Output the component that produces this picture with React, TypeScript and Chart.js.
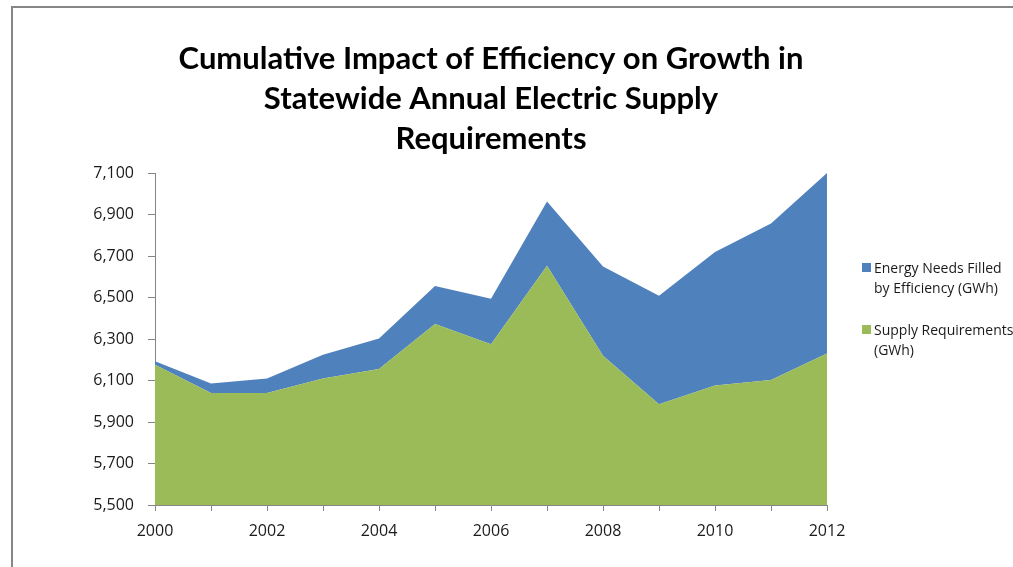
import React, { useEffect, useRef } from "react";
import { Chart, registerables } from "chart.js";

Chart.register(...registerables);

// ---- data ----
const years = ["2000", "2001", "2002", "2003", "2004", "2005", "2006", "2007", "2008", "2009", "2010", "2011", "2012"];
const supplyRequirements = [6176, 6040, 6040, 6110, 6155, 6372, 6275, 6653, 6219, 5986, 6076, 6103, 6230];
const efficiencySavings = [17, 46, 70, 114, 148, 183, 219, 310, 431, 522, 643, 754, 870];
const yMin = 5500;
const yMax = 7100;
const yStep = 200;
const titleLines = [
  "Cumulative Impact of Efficiency on Growth in",
  "Statewide Annual Electric Supply",
  "Requirements",
];
const supplyLabel = ["Supply Requirements", "(GWh)"];
const efficiencyLabel = ["Energy Needs Filled", "by Efficiency (GWh)"];

const GREEN = "#9BBB59";
const BLUE = "#4F81BD";
const AXIS = "#868686";
const TEXT = "#1a1a1a";
const FONT = "'Open Sans', Lato, sans-serif";

const sideLegend = {
  id: "sideLegend",
  afterDraw(chart: any) {
    const ctx = chart.ctx;
    const area = chart.chartArea;
    const mid = (area.top + area.bottom) / 2;
    const x = area.right + 35;
    const order = [1, 0];
    const offsets = [-66, -4];
    ctx.save();
    ctx.font = `14px ${FONT}`;
    ctx.textBaseline = "alphabetic";
    ctx.textAlign = "left";
    order.forEach((di, k) => {
      const ds = chart.data.datasets[di];
      const base = mid + offsets[k];
      ctx.fillStyle = ds.backgroundColor;
      ctx.fillRect(x, base - 10, 9, 9);
      ctx.fillStyle = TEXT;
      const lines: string[] = ds.legendLines;
      lines.forEach((ln, i) => ctx.fillText(ln, x + 12, base + i * 19.5));
    });
    ctx.restore();
  },
};

export default function App() {
  const ref = useRef<HTMLCanvasElement | null>(null);
  useEffect(() => {
    if (!ref.current) return;
    const chart = new Chart(ref.current, {
      type: "line",
      data: {
        labels: years,
        datasets: [
          {
            label: supplyLabel.join(" "),
            legendLines: supplyLabel,
            data: supplyRequirements,
            backgroundColor: GREEN,
            borderColor: GREEN,
            borderWidth: 0,
            pointRadius: 0,
            fill: "start",
            tension: 0,
          } as any,
          {
            label: efficiencyLabel.join(" "),
            legendLines: efficiencyLabel,
            data: efficiencySavings,
            backgroundColor: BLUE,
            borderColor: BLUE,
            borderWidth: 0,
            pointRadius: 0,
            fill: "-1",
            tension: 0,
          } as any,
        ],
      },
      options: {
        animation: false,
        responsive: true,
        maintainAspectRatio: false,
        layout: { padding: { left: 0, right: 186, top: 0, bottom: 0 } },
        plugins: {
          legend: { display: false },
          tooltip: { enabled: false },
          title: {
            display: true,
            fullSize: false,
            text: titleLines,
            color: "#000",
            font: { family: "Lato, 'Open Sans', sans-serif", weight: "bold", size: 31, lineHeight: 40 / 31 },
            padding: { top: 39, bottom: 14 },
          },
        },
        scales: {
          x: {
            stacked: true,
            offset: false,
            grid: { display: true, drawOnChartArea: false, drawTicks: true, tickLength: 6, color: AXIS },
            border: { color: AXIS, width: 1 },
            ticks: {
              autoSkip: false,
              maxRotation: 0,
              color: TEXT,
              font: { family: FONT, size: 16 },
              padding: 11,
              callback: (_v: any, i: number) => (i % 2 === 0 ? years[i] : ""),
            },
            afterFit: (s: any) => {
              s.height = 62;
            },
          },
          y: {
            stacked: true,
            min: yMin,
            max: yMax,
            grid: { display: true, drawOnChartArea: false, drawTicks: true, tickLength: 7, color: AXIS },
            border: { color: AXIS, width: 1 },
            ticks: {
              stepSize: yStep,
              color: TEXT,
              font: { family: FONT, size: 16 },
              padding: 14,
              callback: (v: any) => Number(v).toLocaleString("en-US"),
            },
            afterFit: (s: any) => {
              s.width = 155;
            },
          },
        },
      } as any,
      plugins: [sideLegend],
    });
    return () => chart.destroy();
  }, []);

  return (
    <div style={{ position: "fixed", left: 0, top: 0, width: 1013, height: 567, overflow: "hidden", background: "#fff" }}>
      <div
        style={{
          position: "absolute",
          left: 11,
          top: 6,
          width: 1100,
          height: 700,
          borderTop: `2px solid ${AXIS}`,
          borderLeft: `2px solid ${AXIS}`,
        }}
      />
      <div style={{ position: "absolute", left: 0, top: 0, width: 1013, height: 567 }}>
        <canvas ref={ref} />
      </div>
    </div>
  );
}
